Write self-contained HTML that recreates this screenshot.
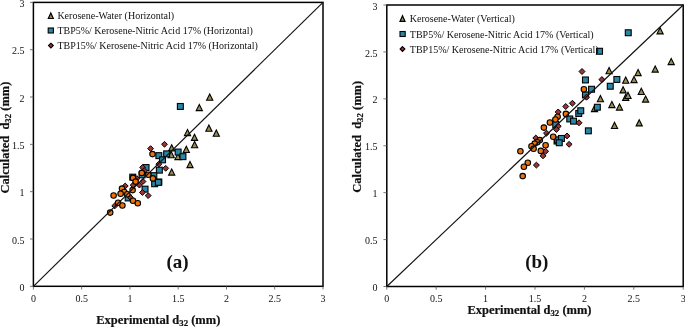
<!DOCTYPE html>
<html><head><meta charset="utf-8"><title>chart</title>
<style>
html,body{margin:0;padding:0;background:#fff;}
body{width:685px;height:327px;overflow:hidden;font-family:"Liberation Serif",serif;}
svg{display:block;will-change:transform;}
text{font-family:"Liberation Serif",serif;fill:#111;}
.tk{font-size:10px;}
.lg{font-size:10px;}
.ax{font-size:12.5px;font-weight:bold;stroke:#111;stroke-width:0.2px;}
.sub{font-size:8.8px;}
.pl{font-size:19px;font-weight:bold;}
</style></head><body>
<svg width="685" height="327" viewBox="0 0 685 327">
<rect x="0" y="0" width="685" height="327" fill="#fff"/>
<g id="plotA">
<rect x="33.4" y="2.4" width="289.6" height="283.9" fill="none" stroke="#000" stroke-width="1.5"/>
<line x1="33.40" y1="286.3" x2="33.40" y2="289.5" stroke="#555" stroke-width="0.8"/>
<line x1="30.0" y1="286.30" x2="33.4" y2="286.30" stroke="#555" stroke-width="0.8"/>
<line x1="81.67" y1="286.3" x2="81.67" y2="289.5" stroke="#555" stroke-width="0.8"/>
<line x1="30.0" y1="238.98" x2="33.4" y2="238.98" stroke="#555" stroke-width="0.8"/>
<line x1="129.93" y1="286.3" x2="129.93" y2="289.5" stroke="#555" stroke-width="0.8"/>
<line x1="30.0" y1="191.67" x2="33.4" y2="191.67" stroke="#555" stroke-width="0.8"/>
<line x1="178.20" y1="286.3" x2="178.20" y2="289.5" stroke="#555" stroke-width="0.8"/>
<line x1="30.0" y1="144.35" x2="33.4" y2="144.35" stroke="#555" stroke-width="0.8"/>
<line x1="226.47" y1="286.3" x2="226.47" y2="289.5" stroke="#555" stroke-width="0.8"/>
<line x1="30.0" y1="97.03" x2="33.4" y2="97.03" stroke="#555" stroke-width="0.8"/>
<line x1="274.73" y1="286.3" x2="274.73" y2="289.5" stroke="#555" stroke-width="0.8"/>
<line x1="30.0" y1="49.72" x2="33.4" y2="49.72" stroke="#555" stroke-width="0.8"/>
<line x1="323.00" y1="286.3" x2="323.00" y2="289.5" stroke="#555" stroke-width="0.8"/>
<line x1="30.0" y1="2.40" x2="33.4" y2="2.40" stroke="#555" stroke-width="0.8"/>
<text x="33.40" y="302.0" text-anchor="middle" class="tk">0</text>
<text x="24.6" y="290.90" text-anchor="end" class="tk">0</text>
<text x="81.67" y="302.0" text-anchor="middle" class="tk">0.5</text>
<text x="24.6" y="243.58" text-anchor="end" class="tk">0.5</text>
<text x="129.93" y="302.0" text-anchor="middle" class="tk">1</text>
<text x="24.6" y="196.27" text-anchor="end" class="tk">1</text>
<text x="178.20" y="302.0" text-anchor="middle" class="tk">1.5</text>
<text x="24.6" y="148.95" text-anchor="end" class="tk">1.5</text>
<text x="226.47" y="302.0" text-anchor="middle" class="tk">2</text>
<text x="24.6" y="101.63" text-anchor="end" class="tk">2</text>
<text x="274.73" y="302.0" text-anchor="middle" class="tk">2.5</text>
<text x="24.6" y="54.32" text-anchor="end" class="tk">2.5</text>
<text x="323.00" y="302.0" text-anchor="middle" class="tk">3</text>
<text x="24.6" y="7.00" text-anchor="end" class="tk">3</text>
<polygon points="209.7,94.1 206.6,100.3 212.8,100.3" fill="#988C52" stroke="#000" stroke-width="1.1" stroke-linejoin="miter"/>
<polygon points="199.3,104.4 196.2,110.6 202.4,110.6" fill="#988C52" stroke="#000" stroke-width="1.1" stroke-linejoin="miter"/>
<polygon points="208.9,125.1 205.8,131.3 212.0,131.3" fill="#988C52" stroke="#000" stroke-width="1.1" stroke-linejoin="miter"/>
<polygon points="216.3,130.0 213.2,136.2 219.4,136.2" fill="#988C52" stroke="#000" stroke-width="1.1" stroke-linejoin="miter"/>
<polygon points="187.5,129.4 184.4,135.6 190.6,135.6" fill="#988C52" stroke="#000" stroke-width="1.1" stroke-linejoin="miter"/>
<polygon points="194.5,134.2 191.4,140.4 197.6,140.4" fill="#988C52" stroke="#000" stroke-width="1.1" stroke-linejoin="miter"/>
<polygon points="194.6,141.6 191.5,147.8 197.7,147.8" fill="#988C52" stroke="#000" stroke-width="1.1" stroke-linejoin="miter"/>
<polygon points="186.3,146.3 183.2,152.5 189.4,152.5" fill="#988C52" stroke="#000" stroke-width="1.1" stroke-linejoin="miter"/>
<polygon points="171.7,144.7 168.6,150.9 174.8,150.9" fill="#988C52" stroke="#000" stroke-width="1.1" stroke-linejoin="miter"/>
<polygon points="171.2,151.6 168.1,157.8 174.3,157.8" fill="#988C52" stroke="#000" stroke-width="1.1" stroke-linejoin="miter"/>
<polygon points="178.0,153.4 174.9,159.6 181.1,159.6" fill="#988C52" stroke="#000" stroke-width="1.1" stroke-linejoin="miter"/>
<polygon points="190.0,161.4 186.9,167.6 193.1,167.6" fill="#988C52" stroke="#000" stroke-width="1.1" stroke-linejoin="miter"/>
<polygon points="171.7,168.9 168.6,175.1 174.8,175.1" fill="#988C52" stroke="#000" stroke-width="1.1" stroke-linejoin="miter"/>
<rect x="177.4" y="103.5" width="5.9" height="5.9" fill="#2A86A4" stroke="#000" stroke-width="1.1"/>
<rect x="155.9" y="152.7" width="5.9" height="5.9" fill="#2A86A4" stroke="#000" stroke-width="1.1"/>
<rect x="163.7" y="150.9" width="5.9" height="5.9" fill="#2A86A4" stroke="#000" stroke-width="1.1"/>
<rect x="159.6" y="156.9" width="5.9" height="5.9" fill="#2A86A4" stroke="#000" stroke-width="1.1"/>
<rect x="175.2" y="149.1" width="5.9" height="5.9" fill="#2A86A4" stroke="#000" stroke-width="1.1"/>
<rect x="180.0" y="153.7" width="5.9" height="5.9" fill="#2A86A4" stroke="#000" stroke-width="1.1"/>
<rect x="156.4" y="167.2" width="5.9" height="5.9" fill="#2A86A4" stroke="#000" stroke-width="1.1"/>
<rect x="150.9" y="172.7" width="5.9" height="5.9" fill="#2A86A4" stroke="#000" stroke-width="1.1"/>
<rect x="155.9" y="179.1" width="5.9" height="5.9" fill="#2A86A4" stroke="#000" stroke-width="1.1"/>
<rect x="143.1" y="164.6" width="5.9" height="5.9" fill="#2A86A4" stroke="#000" stroke-width="1.1"/>
<rect x="129.8" y="174.2" width="5.9" height="5.9" fill="#2A86A4" stroke="#000" stroke-width="1.1"/>
<rect x="139.1" y="171.9" width="5.9" height="5.9" fill="#2A86A4" stroke="#000" stroke-width="1.1"/>
<rect x="142.1" y="186.2" width="5.9" height="5.9" fill="#2A86A4" stroke="#000" stroke-width="1.1"/>
<rect x="151.7" y="180.8" width="5.9" height="5.9" fill="#2A86A4" stroke="#000" stroke-width="1.1"/>
<rect x="155.4" y="179.4" width="5.9" height="5.9" fill="#2A86A4" stroke="#000" stroke-width="1.1"/>
<rect x="125.2" y="195.0" width="5.9" height="5.9" fill="#2A86A4" stroke="#000" stroke-width="1.1"/>
<polygon points="164.5,141.4 167.4,144.3 164.5,147.2 161.6,144.3" fill="#9A3438" stroke="#000" stroke-width="1.0"/>
<polygon points="150.6,145.7 153.5,148.6 150.6,151.5 147.7,148.6" fill="#9A3438" stroke="#000" stroke-width="1.0"/>
<polygon points="158.8,161.2 161.8,164.1 158.8,167.0 155.9,164.1" fill="#9A3438" stroke="#000" stroke-width="1.0"/>
<polygon points="165.7,165.4 168.6,168.3 165.7,171.2 162.8,168.3" fill="#9A3438" stroke="#000" stroke-width="1.0"/>
<polygon points="142.6,164.5 145.5,167.4 142.6,170.3 139.7,167.4" fill="#9A3438" stroke="#000" stroke-width="1.0"/>
<polygon points="144.3,167.7 147.2,170.6 144.3,173.5 141.4,170.6" fill="#9A3438" stroke="#000" stroke-width="1.0"/>
<polygon points="143.0,178.6 145.9,181.5 143.0,184.4 140.1,181.5" fill="#9A3438" stroke="#000" stroke-width="1.0"/>
<polygon points="136.8,175.7 139.8,178.6 136.8,181.5 133.9,178.6" fill="#9A3438" stroke="#000" stroke-width="1.0"/>
<polygon points="139.4,182.2 142.3,185.1 139.4,188.0 136.5,185.1" fill="#9A3438" stroke="#000" stroke-width="1.0"/>
<polygon points="133.2,182.2 136.1,185.1 133.2,188.0 130.2,185.1" fill="#9A3438" stroke="#000" stroke-width="1.0"/>
<polygon points="142.4,189.6 145.3,192.5 142.4,195.4 139.5,192.5" fill="#9A3438" stroke="#000" stroke-width="1.0"/>
<polygon points="148.2,192.7 151.1,195.6 148.2,198.5 145.2,195.6" fill="#9A3438" stroke="#000" stroke-width="1.0"/>
<polygon points="125.2,183.1 128.2,186.0 125.2,188.9 122.2,186.0" fill="#9A3438" stroke="#000" stroke-width="1.0"/>
<polygon points="130.3,194.4 133.2,197.3 130.3,200.2 127.4,197.3" fill="#9A3438" stroke="#000" stroke-width="1.0"/>
<polygon points="114.8,202.9 117.8,205.8 114.8,208.8 111.8,205.8" fill="#9A3438" stroke="#000" stroke-width="1.0"/>
<circle cx="152.5" cy="154.1" r="2.75" fill="#EA730C" stroke="#000" stroke-width="1.1"/>
<circle cx="141.8" cy="172.9" r="2.75" fill="#EA730C" stroke="#000" stroke-width="1.1"/>
<circle cx="148.3" cy="174.8" r="2.75" fill="#EA730C" stroke="#000" stroke-width="1.1"/>
<circle cx="152.9" cy="178.4" r="2.75" fill="#EA730C" stroke="#000" stroke-width="1.1"/>
<circle cx="133.0" cy="177.9" r="2.75" fill="#EA730C" stroke="#000" stroke-width="1.1"/>
<circle cx="135.6" cy="181.6" r="2.75" fill="#EA730C" stroke="#000" stroke-width="1.1"/>
<circle cx="122.0" cy="188.6" r="2.75" fill="#EA730C" stroke="#000" stroke-width="1.1"/>
<circle cx="132.6" cy="190.1" r="2.75" fill="#EA730C" stroke="#000" stroke-width="1.1"/>
<circle cx="124.3" cy="192.0" r="2.75" fill="#EA730C" stroke="#000" stroke-width="1.1"/>
<circle cx="120.6" cy="193.8" r="2.75" fill="#EA730C" stroke="#000" stroke-width="1.1"/>
<circle cx="127.3" cy="194.3" r="2.75" fill="#EA730C" stroke="#000" stroke-width="1.1"/>
<circle cx="113.6" cy="195.5" r="2.75" fill="#EA730C" stroke="#000" stroke-width="1.1"/>
<circle cx="133.0" cy="200.7" r="2.75" fill="#EA730C" stroke="#000" stroke-width="1.1"/>
<circle cx="137.8" cy="203.2" r="2.75" fill="#EA730C" stroke="#000" stroke-width="1.1"/>
<circle cx="118.1" cy="202.8" r="2.75" fill="#EA730C" stroke="#000" stroke-width="1.1"/>
<circle cx="122.4" cy="205.5" r="2.75" fill="#EA730C" stroke="#000" stroke-width="1.1"/>
<circle cx="110.2" cy="212.6" r="2.75" fill="#EA730C" stroke="#000" stroke-width="1.1"/>
<line x1="33.4" y1="286.3" x2="323.0" y2="2.4" stroke="#111" stroke-width="1.15"/>
<polygon points="50.8,12.9 48.3,18.5 53.3,18.5" fill="#988C52" stroke="#000" stroke-width="1.2"/>
<rect x="48.2" y="28.0" width="5.2" height="5.0" fill="#2A86A4" stroke="#000" stroke-width="1.1"/>
<polygon points="50.9,43.2 53.3,45.6 50.9,48.0 48.5,45.6" fill="#9A3438" stroke="#000" stroke-width="1.1"/>
<text x="57.4" y="19.1" class="lg">Kerosene-Water (Horizontal)</text>
<text x="57.4" y="33.6" class="lg">TBP5%/ Kerosene-Nitric Acid 17% (Horizontal)</text>
<text x="57.4" y="49.2" class="lg">TBP15%/ Kerosene-Nitric Acid 17% (Horizontal)</text>
<text x="177.5" y="268.4" text-anchor="middle" class="pl">(a)</text>
<text x="158.3" y="323.7" text-anchor="middle" class="ax">Experimental d<tspan class="sub" dy="2">32</tspan><tspan dy="-2"> (mm)</tspan></text>
<text transform="translate(9.0,137.5) rotate(-90)" text-anchor="middle" class="ax" style="white-space:pre">Calculated  d<tspan class="sub" dy="2">32</tspan><tspan dy="-2"> (mm)</tspan></text>
</g>
<g id="plotB">
<rect x="386.8" y="5.0" width="296.4" height="281.5" fill="none" stroke="#000" stroke-width="1.5"/>
<line x1="386.80" y1="286.5" x2="386.80" y2="289.7" stroke="#555" stroke-width="0.8"/>
<line x1="383.40000000000003" y1="286.50" x2="386.8" y2="286.50" stroke="#555" stroke-width="0.8"/>
<line x1="436.20" y1="286.5" x2="436.20" y2="289.7" stroke="#555" stroke-width="0.8"/>
<line x1="383.40000000000003" y1="239.58" x2="386.8" y2="239.58" stroke="#555" stroke-width="0.8"/>
<line x1="485.60" y1="286.5" x2="485.60" y2="289.7" stroke="#555" stroke-width="0.8"/>
<line x1="383.40000000000003" y1="192.67" x2="386.8" y2="192.67" stroke="#555" stroke-width="0.8"/>
<line x1="535.00" y1="286.5" x2="535.00" y2="289.7" stroke="#555" stroke-width="0.8"/>
<line x1="383.40000000000003" y1="145.75" x2="386.8" y2="145.75" stroke="#555" stroke-width="0.8"/>
<line x1="584.40" y1="286.5" x2="584.40" y2="289.7" stroke="#555" stroke-width="0.8"/>
<line x1="383.40000000000003" y1="98.83" x2="386.8" y2="98.83" stroke="#555" stroke-width="0.8"/>
<line x1="633.80" y1="286.5" x2="633.80" y2="289.7" stroke="#555" stroke-width="0.8"/>
<line x1="383.40000000000003" y1="51.92" x2="386.8" y2="51.92" stroke="#555" stroke-width="0.8"/>
<line x1="683.20" y1="286.5" x2="683.20" y2="289.7" stroke="#555" stroke-width="0.8"/>
<line x1="383.40000000000003" y1="5.00" x2="386.8" y2="5.00" stroke="#555" stroke-width="0.8"/>
<text x="386.80" y="302.0" text-anchor="middle" class="tk">0</text>
<text x="377.6" y="291.10" text-anchor="end" class="tk">0</text>
<text x="436.20" y="302.0" text-anchor="middle" class="tk">0.5</text>
<text x="377.6" y="244.18" text-anchor="end" class="tk">0.5</text>
<text x="485.60" y="302.0" text-anchor="middle" class="tk">1</text>
<text x="377.6" y="197.27" text-anchor="end" class="tk">1</text>
<text x="535.00" y="302.0" text-anchor="middle" class="tk">1.5</text>
<text x="377.6" y="150.35" text-anchor="end" class="tk">1.5</text>
<text x="584.40" y="302.0" text-anchor="middle" class="tk">2</text>
<text x="377.6" y="103.43" text-anchor="end" class="tk">2</text>
<text x="633.80" y="302.0" text-anchor="middle" class="tk">2.5</text>
<text x="377.6" y="56.52" text-anchor="end" class="tk">2.5</text>
<text x="683.20" y="302.0" text-anchor="middle" class="tk">3</text>
<text x="377.6" y="9.60" text-anchor="end" class="tk">3</text>
<polygon points="660.1,27.7 657.0,33.9 663.2,33.9" fill="#988C52" stroke="#000" stroke-width="1.1" stroke-linejoin="miter"/>
<polygon points="671.2,58.4 668.1,64.6 674.3,64.6" fill="#988C52" stroke="#000" stroke-width="1.1" stroke-linejoin="miter"/>
<polygon points="655.2,65.9 652.1,72.1 658.3,72.1" fill="#988C52" stroke="#000" stroke-width="1.1" stroke-linejoin="miter"/>
<polygon points="638.1,69.4 635.0,75.6 641.2,75.6" fill="#988C52" stroke="#000" stroke-width="1.1" stroke-linejoin="miter"/>
<polygon points="609.1,67.5 606.0,73.7 612.2,73.7" fill="#988C52" stroke="#000" stroke-width="1.1" stroke-linejoin="miter"/>
<polygon points="625.7,77.1 622.6,83.3 628.8,83.3" fill="#988C52" stroke="#000" stroke-width="1.1" stroke-linejoin="miter"/>
<polygon points="634.0,76.4 630.9,82.6 637.1,82.6" fill="#988C52" stroke="#000" stroke-width="1.1" stroke-linejoin="miter"/>
<polygon points="623.1,86.7 620.0,92.9 626.2,92.9" fill="#988C52" stroke="#000" stroke-width="1.1" stroke-linejoin="miter"/>
<polygon points="641.3,88.3 638.2,94.5 644.4,94.5" fill="#988C52" stroke="#000" stroke-width="1.1" stroke-linejoin="miter"/>
<polygon points="625.7,94.2 622.6,100.4 628.8,100.4" fill="#988C52" stroke="#000" stroke-width="1.1" stroke-linejoin="miter"/>
<polygon points="628.0,92.3 624.9,98.5 631.1,98.5" fill="#988C52" stroke="#000" stroke-width="1.1" stroke-linejoin="miter"/>
<polygon points="645.6,95.9 642.5,102.1 648.7,102.1" fill="#988C52" stroke="#000" stroke-width="1.1" stroke-linejoin="miter"/>
<polygon points="600.4,95.5 597.3,101.7 603.5,101.7" fill="#988C52" stroke="#000" stroke-width="1.1" stroke-linejoin="miter"/>
<polygon points="611.9,101.4 608.8,107.6 615.0,107.6" fill="#988C52" stroke="#000" stroke-width="1.1" stroke-linejoin="miter"/>
<polygon points="619.5,103.9 616.4,110.1 622.6,110.1" fill="#988C52" stroke="#000" stroke-width="1.1" stroke-linejoin="miter"/>
<polygon points="639.2,119.7 636.1,125.9 642.3,125.9" fill="#988C52" stroke="#000" stroke-width="1.1" stroke-linejoin="miter"/>
<polygon points="614.5,122.3 611.4,128.5 617.6,128.5" fill="#988C52" stroke="#000" stroke-width="1.1" stroke-linejoin="miter"/>
<polygon points="594.5,105.4 591.4,111.6 597.6,111.6" fill="#988C52" stroke="#000" stroke-width="1.1" stroke-linejoin="miter"/>
<rect x="625.3" y="29.8" width="5.9" height="5.9" fill="#2A86A4" stroke="#000" stroke-width="1.1"/>
<rect x="596.6" y="48.3" width="5.9" height="5.9" fill="#2A86A4" stroke="#000" stroke-width="1.1"/>
<rect x="613.9" y="76.5" width="5.9" height="5.9" fill="#2A86A4" stroke="#000" stroke-width="1.1"/>
<rect x="607.3" y="83.3" width="5.9" height="5.9" fill="#2A86A4" stroke="#000" stroke-width="1.1"/>
<rect x="582.5" y="77.0" width="5.9" height="5.9" fill="#2A86A4" stroke="#000" stroke-width="1.1"/>
<rect x="588.6" y="86.3" width="5.9" height="5.9" fill="#2A86A4" stroke="#000" stroke-width="1.1"/>
<rect x="582.5" y="92.0" width="5.9" height="5.9" fill="#2A86A4" stroke="#000" stroke-width="1.1"/>
<rect x="594.4" y="104.3" width="5.9" height="5.9" fill="#2A86A4" stroke="#000" stroke-width="1.1"/>
<rect x="575.8" y="110.5" width="5.9" height="5.9" fill="#2A86A4" stroke="#000" stroke-width="1.1"/>
<rect x="577.8" y="107.8" width="5.9" height="5.9" fill="#2A86A4" stroke="#000" stroke-width="1.1"/>
<rect x="566.8" y="116.0" width="5.9" height="5.9" fill="#2A86A4" stroke="#000" stroke-width="1.1"/>
<rect x="570.6" y="118.2" width="5.9" height="5.9" fill="#2A86A4" stroke="#000" stroke-width="1.1"/>
<rect x="585.4" y="127.9" width="5.9" height="5.9" fill="#2A86A4" stroke="#000" stroke-width="1.1"/>
<rect x="552.8" y="121.5" width="5.9" height="5.9" fill="#2A86A4" stroke="#000" stroke-width="1.1"/>
<rect x="554.1" y="138.1" width="5.9" height="5.9" fill="#2A86A4" stroke="#000" stroke-width="1.1"/>
<rect x="554.6" y="136.9" width="5.9" height="5.9" fill="#2A86A4" stroke="#000" stroke-width="1.1"/>
<rect x="558.5" y="135.5" width="5.9" height="5.9" fill="#2A86A4" stroke="#000" stroke-width="1.1"/>
<rect x="556.3" y="139.8" width="5.9" height="5.9" fill="#2A86A4" stroke="#000" stroke-width="1.1"/>
<polygon points="582.0,68.5 585.0,71.5 582.0,74.5 579.0,71.5" fill="#9A3438" stroke="#000" stroke-width="1.0"/>
<polygon points="601.9,76.6 604.9,79.6 601.9,82.5 598.9,79.6" fill="#9A3438" stroke="#000" stroke-width="1.0"/>
<polygon points="586.5,94.2 589.5,97.2 586.5,100.2 583.5,97.2" fill="#9A3438" stroke="#000" stroke-width="1.0"/>
<polygon points="572.4,100.3 575.4,103.3 572.4,106.2 569.4,103.3" fill="#9A3438" stroke="#000" stroke-width="1.0"/>
<polygon points="565.7,103.5 568.7,106.5 565.7,109.5 562.8,106.5" fill="#9A3438" stroke="#000" stroke-width="1.0"/>
<polygon points="558.2,109.0 561.2,112.0 558.2,115.0 555.2,112.0" fill="#9A3438" stroke="#000" stroke-width="1.0"/>
<polygon points="579.0,119.8 582.0,122.8 579.0,125.8 576.0,122.8" fill="#9A3438" stroke="#000" stroke-width="1.0"/>
<polygon points="558.2,123.3 561.2,126.3 558.2,129.2 555.2,126.3" fill="#9A3438" stroke="#000" stroke-width="1.0"/>
<polygon points="556.4,126.5 559.4,129.5 556.4,132.4 553.4,129.5" fill="#9A3438" stroke="#000" stroke-width="1.0"/>
<polygon points="546.5,130.2 549.5,133.2 546.5,136.1 543.5,133.2" fill="#9A3438" stroke="#000" stroke-width="1.0"/>
<polygon points="535.8,135.1 538.8,138.0 535.8,140.9 532.8,138.0" fill="#9A3438" stroke="#000" stroke-width="1.0"/>
<polygon points="567.0,133.0 570.0,135.9 567.0,138.8 564.0,135.9" fill="#9A3438" stroke="#000" stroke-width="1.0"/>
<polygon points="569.1,141.4 572.1,144.3 569.1,147.2 566.1,144.3" fill="#9A3438" stroke="#000" stroke-width="1.0"/>
<polygon points="545.6,148.4 548.6,151.3 545.6,154.2 542.6,151.3" fill="#9A3438" stroke="#000" stroke-width="1.0"/>
<polygon points="543.0,152.9 546.0,155.8 543.0,158.8 540.0,155.8" fill="#9A3438" stroke="#000" stroke-width="1.0"/>
<polygon points="536.4,162.2 539.4,165.1 536.4,168.0 533.4,165.1" fill="#9A3438" stroke="#000" stroke-width="1.0"/>
<circle cx="583.9" cy="89.3" r="2.75" fill="#EA730C" stroke="#000" stroke-width="1.1"/>
<circle cx="565.9" cy="113.9" r="2.75" fill="#EA730C" stroke="#000" stroke-width="1.1"/>
<circle cx="557.6" cy="116.7" r="2.75" fill="#EA730C" stroke="#000" stroke-width="1.1"/>
<circle cx="555.4" cy="119.5" r="2.75" fill="#EA730C" stroke="#000" stroke-width="1.1"/>
<circle cx="549.9" cy="122.5" r="2.75" fill="#EA730C" stroke="#000" stroke-width="1.1"/>
<circle cx="543.9" cy="127.6" r="2.75" fill="#EA730C" stroke="#000" stroke-width="1.1"/>
<circle cx="553.2" cy="136.8" r="2.75" fill="#EA730C" stroke="#000" stroke-width="1.1"/>
<circle cx="539.8" cy="140.1" r="2.75" fill="#EA730C" stroke="#000" stroke-width="1.1"/>
<circle cx="537.2" cy="142.3" r="2.75" fill="#EA730C" stroke="#000" stroke-width="1.1"/>
<circle cx="534.7" cy="143.6" r="2.75" fill="#EA730C" stroke="#000" stroke-width="1.1"/>
<circle cx="531.5" cy="146.2" r="2.75" fill="#EA730C" stroke="#000" stroke-width="1.1"/>
<circle cx="533.6" cy="148.7" r="2.75" fill="#EA730C" stroke="#000" stroke-width="1.1"/>
<circle cx="545.6" cy="145.3" r="2.75" fill="#EA730C" stroke="#000" stroke-width="1.1"/>
<circle cx="540.8" cy="150.9" r="2.75" fill="#EA730C" stroke="#000" stroke-width="1.1"/>
<circle cx="520.4" cy="151.3" r="2.75" fill="#EA730C" stroke="#000" stroke-width="1.1"/>
<circle cx="527.8" cy="162.8" r="2.75" fill="#EA730C" stroke="#000" stroke-width="1.1"/>
<circle cx="523.9" cy="166.8" r="2.75" fill="#EA730C" stroke="#000" stroke-width="1.1"/>
<circle cx="522.7" cy="176.1" r="2.75" fill="#EA730C" stroke="#000" stroke-width="1.1"/>
<line x1="386.8" y1="286.5" x2="683.2" y2="5.0" stroke="#111" stroke-width="1.15"/>
<polygon points="402.5,15.8 400.0,21.4 405.0,21.4" fill="#988C52" stroke="#000" stroke-width="1.2"/>
<rect x="400.0" y="31.5" width="5.2" height="5.0" fill="#2A86A4" stroke="#000" stroke-width="1.1"/>
<polygon points="402.5,46.6 404.9,49.0 402.5,51.4 400.1,49.0" fill="#9A3438" stroke="#000" stroke-width="1.1"/>
<text x="409.8" y="22.0" class="lg">Kerosene-Water (Vertical)</text>
<text x="409.8" y="37.9" class="lg">TBP5%/ Kerosene-Nitric Acid 17% (Vertical)</text>
<text x="409.8" y="53.0" class="lg">TBP15%/ Kerosene-Nitric Acid 17% (Vertical)</text>
<text x="536.8" y="267.8" text-anchor="middle" class="pl">(b)</text>
<text x="529.5" y="314.0" text-anchor="middle" class="ax">Experimental d<tspan class="sub" dy="2">32</tspan><tspan dy="-2"> (mm)</tspan></text>
<text transform="translate(361.0,136.8) rotate(-90)" text-anchor="middle" class="ax" style="white-space:pre">Calculated  d<tspan class="sub" dy="2">32</tspan><tspan dy="-2"> (mm)</tspan></text>
</g>
</svg></body></html>
